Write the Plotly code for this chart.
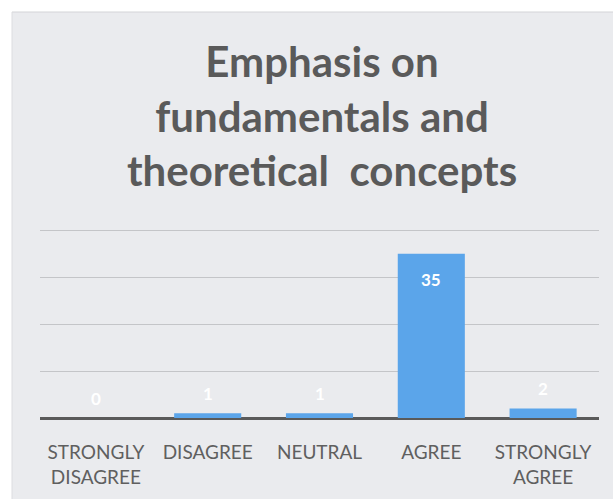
import plotly.graph_objects as go

categories = ["STRONGLY<br>DISAGREE", "DISAGREE", "NEUTRAL", "AGREE", "STRONGLY<br>AGREE"]
values = [0, 1, 1, 35, 2]
title_text = "Emphasis on<br>fundamentals and<br>theoretical  concepts"

W, H = 613, 499
ml, mr, mt, mb = 40, 14, 228, 81
pw, ph = W - ml - mr, H - mt - mb
FONT = "Lato, Open Sans, sans-serif"

fig = go.Figure()
fig.add_trace(go.Bar(
    x=categories, y=values,
    marker=dict(color="#5ba5ea", line=dict(width=0)),
    hoverinfo="x+y",
))

# data labels (white), inside end for tall bars, just above for short ones
for c, v in zip(categories, values):
    fig.add_annotation(
        x=c, y=v, xref="x", yref="y", text=str(v), showarrow=False,
        yanchor="middle", yshift=(-26 if v >= 5 else 20),
        font=dict(family=FONT, size=17, color="white", weight="bold"),
    )

# white scan margins at left and top
top = 1 + mt / ph
bottom = -mb / ph
left = -ml / pw
right = 1 + mr / pw
fig.add_shape(type="rect", xref="paper", yref="paper",
              x0=left, x1=left + 12 / pw, y0=bottom, y1=top,
              fillcolor="white", line=dict(width=0), layer="below")
fig.add_shape(type="rect", xref="paper", yref="paper",
              x0=left, x1=right, y0=top - 12 / ph, y1=top,
              fillcolor="white", line=dict(width=0), layer="below")
fig.add_shape(type="line", xref="paper", yref="paper",
              x0=left + 12 / pw, x1=right, y0=top - 12 / ph, y1=top - 12 / ph,
              line=dict(color="#d3d4d7", width=1), layer="below")
fig.add_shape(type="line", xref="paper", yref="paper",
              x0=left + 12 / pw, x1=left + 12 / pw, y0=bottom, y1=top - 12 / ph,
              line=dict(color="#dcdde0", width=1), layer="below")

fig.update_layout(
    width=W, height=H,
    margin=dict(l=ml, r=mr, t=mt, b=mb, autoexpand=False),
    paper_bgcolor="#eaebee",
    plot_bgcolor="rgba(0,0,0,0)",
    bargap=0.4,
    showlegend=False,
    title=dict(
        text=title_text,
        x=322 / W, xanchor="center",
        y=1 - 77 / H, yanchor="top",
        font=dict(family=FONT, size=42, color="#5a5a5a", weight="bold"),
    ),
    xaxis=dict(
        showgrid=False, showline=False, zeroline=False, automargin=False,
        ticks="", ticklabelstandoff=21,
        tickfont=dict(family=FONT, size=19, color="#5f5f5f"),
        tickangle=0,
    ),
    yaxis=dict(
        range=[0, 40.5], dtick=10, showticklabels=False, automargin=False,
        showgrid=True, gridcolor="#c4c5c8", gridwidth=1,
        zeroline=True, zerolinecolor="#5a5a5a", zerolinewidth=3,
        showline=False,
    ),
)

fig.write_html(
    "out.html",
    config={"displayModeBar": False},
    post_script="document.body.style.margin='0';document.body.style.padding='0';",
)
